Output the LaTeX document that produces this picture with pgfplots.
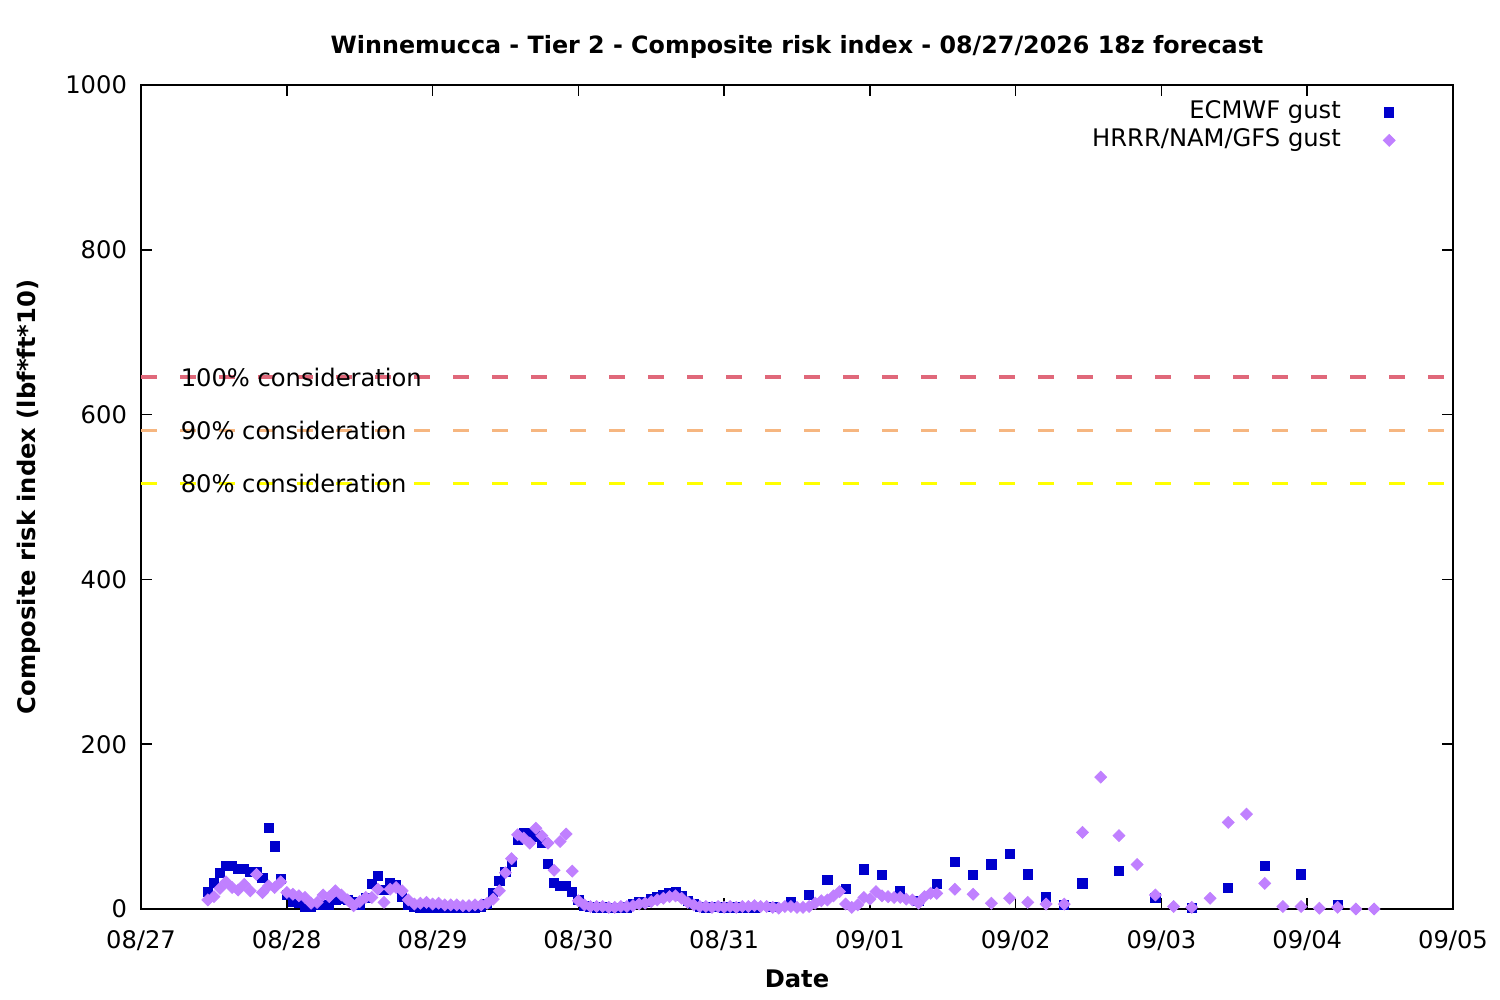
\documentclass[border=0pt]{standalone}
\usepackage{pgfplots}
\pgfplotsset{compat=1.18}
\usepackage{pgfplotstable}
\usepackage{fontspec}
\setmainfont{DejaVu Sans}
\definecolor{ecblue}{RGB}{0,0,204}
\definecolor{hrpurple}{RGB}{192,128,255}
\definecolor{linered}{RGB}{224,104,122}
\definecolor{lineorange}{RGB}{246,182,128}
\definecolor{lineyellow}{RGB}{255,255,0}
\pgfplotstableread{
x y
11 21
12 32
13 44
14 52
15 52
16 49
17 49
18 45
19 45
20 38
21 98
22 76
23 37
24 17
25 9
26 7
27 3
28 3
29 5
30 5
31 5
32 11
33 12
34 11
35 8
36 5
37 13
38 30
39 40
40 23
41 31
42 29
43 15
44 5
45 3
46 2
47 2
48 2
49 1
50 1
51 1
52 1
53 1
54 1
55 2
56 3
57 6
58 19
59 34
60 45
61 57
62 84
63 92
64 92
65 88
66 80
67 55
68 32
69 28
70 28
71 21
72 11
73 4
74 3
75 2
76 2
77 1
78 1
79 1
80 2
81 6
82 8
83 9
84 12
85 14
86 17
87 20
88 21
89 16
90 10
91 6
92 3
93 2
94 3
95 3
96 2
97 2
98 2
99 1
100 1
101 1
104 3
107 9
110 17
113 35
116 24
119 48
122 41
125 22
128 10
131 30
134 57
137 41
140 54
143 67
146 42
149 14
152 5
155 31
161 46
167 13
173 1
179 26
185 52
191 42
197 5
}\ecmwf
\pgfplotstableread{
x y
11 11
12 15
13 25
14 33
15 26
16 23
17 30
18 22
19 42
20 20
21 28
22 26
23 33
24 20
25 18
26 16
27 14
28 7
29 8
30 17
31 15
32 22
33 17
34 11
35 4
36 9
37 14
38 14
39 24
40 8
41 24
42 26
43 22
44 11
45 6
46 7
47 8
48 6
49 7
50 5
51 5
52 5
53 4
54 4
55 5
56 5
57 7
58 12
59 22
60 44
61 61
62 90
63 86
64 80
65 98
66 89
67 80
68 47
69 82
70 91
71 46
72 10
73 5
74 3
75 3
76 3
77 2
78 2
79 3
80 3
81 4
82 6
83 7
84 9
85 11
86 13
87 15
88 16
89 13
90 8
91 5
92 3
93 3
94 2
95 3
96 2
97 3
98 2
99 3
100 3
101 4
102 3
103 3
104 2
105 1
106 3
107 3
108 2
109 2
110 3
111 7
112 10
113 11
114 16
115 21
116 6
117 2
118 5
119 14
120 12
121 21
122 16
123 15
124 14
125 14
126 12
127 11
128 7
129 15
130 19
131 19
134 24
137 18
140 7
143 13
146 8
149 6
152 6
155 93
158 160
161 89
164 54
167 17
170 3
173 2
176 13
179 105
182 115
185 31
188 3
191 3
194 1
197 2
200 0
203 0
}\hrrr
\begin{document}
\begin{tikzpicture}
\useasboundingbox (0,0) rectangle (750pt,500pt);
\begin{axis}[
  at={(70.5pt,45.5pt)}, anchor=south west,
  scale only axis, width=656pt, height=412pt,
  xmin=0, xmax=216, ymin=0, ymax=1000,
  xtick={0,24,...,216},
  xticklabels={08/27,08/28,08/29,08/30,08/31,09/01,09/02,09/03,09/04,09/05},
  ytick={0,200,...,1000},
  minor tick num=0,
  tick align=inside, tick pos=both,
  major tick length=5.3pt,
  axis line style={line width=0.9pt},
  every tick/.style={black, line width=0.8pt},
  font=\fontsize{12.1}{14}\selectfont,
  /pgf/number format/assume math mode=true,
  scaled y ticks=false,
  yticklabel style={/pgf/number format/1000 sep={}, xshift=-3.5pt},
  xticklabel style={yshift=-7pt},
  title={\bfseries Winnemucca - Tier 2 - Composite risk index - 08/27/2026 18z forecast},
  title style={at={(0.5,1)}, anchor=base, yshift=9.5pt, font=\fontsize{11.9}{14}\selectfont},
  xlabel={\bfseries Date},
  xlabel style={at={(0.5,0)}, anchor=base, yshift=-39.5pt},
  ylabel={\bfseries Composite risk index (lbf*ft*10)},
  ylabel style={at={(-0.0855,0.5)}, anchor=center},
  legend plot pos=right,
  legend cell align=right,
  legend image code/.code={\path (-23pt,0pt) (10pt,0pt); \draw[#1, only marks] plot coordinates {(0pt,0pt)};},
  legend style={at={(1,1)}, anchor=north east, xshift=-21.5pt, yshift=-6.5pt,
    draw=none, fill=none, row sep=0pt, inner sep=0pt, column sep=0pt,
    nodes={inner sep=1pt, text height=9pt, text depth=3pt},
    font=\fontsize{12.1}{14}\selectfont},
]
\addplot[only marks, mark=square*, mark size=2.3pt, color=ecblue] table[x=x,y=y] {\ecmwf};
\addlegendentry{ECMWF gust}
\addplot[only marks, mark=square*, mark size=2.1pt, mark options={rotate=45}, color=hrpurple] table[x=x,y=y] {\hrrr};
\addlegendentry{HRRR/NAM/GFS gust}
\addplot[forget plot, linered, line width=1.6pt, dash pattern=on 8pt off 11.5pt] coordinates {(0,645.5) (216,645.5)};
\addplot[forget plot, lineorange, line width=1.6pt, dash pattern=on 8pt off 11.5pt] coordinates {(0,581) (216,581)};
\addplot[forget plot, lineyellow, line width=1.6pt, dash pattern=on 8pt off 11.5pt] coordinates {(0,516.5) (216,516.5)};
\node[anchor=west, inner sep=0pt] at (rel axis cs:0.03,0.6455) {100\% consideration};
\node[anchor=west, inner sep=0pt] at (rel axis cs:0.03,0.581) {90\% consideration};
\node[anchor=west, inner sep=0pt] at (rel axis cs:0.03,0.5165) {80\% consideration};
\end{axis}
\end{tikzpicture}
\end{document}
